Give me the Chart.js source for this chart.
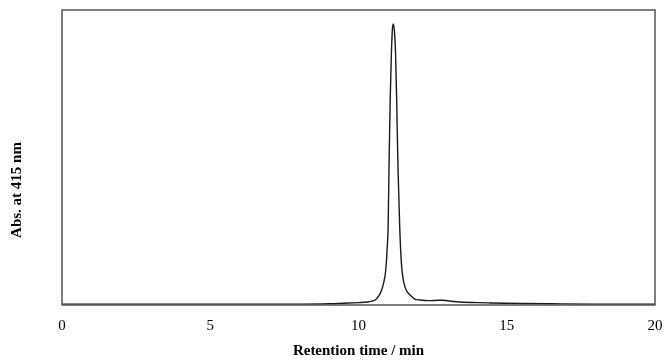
<!DOCTYPE html>
<html>
<head>
<meta charset="utf-8">
<script src="https://cdn.jsdelivr.net/npm/chart.js@4"></script>
<style>
  html, body { margin: 0; padding: 0; background: #fff; }
  #wrap { width: 667px; height: 360px; position: relative; }
</style>
</head>
<body>
<div id="wrap"><canvas id="myChart"></canvas></div>
<script>
// retention time (min) and absorbance
const times = [0, 2, 4, 6, 8, 9, 9.5, 10, 10.3, 10.45, 10.56, 10.68, 10.78, 10.86, 10.91, 10.95, 10.98, 11.0, 11.03, 11.07, 11.11, 11.14, 11.17, 11.21, 11.25, 11.29, 11.33, 11.39, 11.43, 11.47, 11.52, 11.58, 11.65, 11.74, 11.9, 12.07, 12.4, 12.7, 12.85, 13.1, 13.42, 14.0, 14.43, 15.5, 16.5, 18, 20];
const absorb = [0.003, 0.003, 0.003, 0.003, 0.003, 0.004, 0.006, 0.008, 0.010, 0.013, 0.017, 0.030, 0.051, 0.080, 0.110, 0.160, 0.215, 0.264, 0.475, 0.70, 0.854, 0.93, 0.953, 0.93, 0.854, 0.68, 0.475, 0.264, 0.170, 0.115, 0.080, 0.058, 0.044, 0.034, 0.020, 0.017, 0.015, 0.016, 0.016, 0.013, 0.010, 0.008, 0.007, 0.005, 0.004, 0.003, 0.003];
const xTicks = [0, 5, 10, 15, 20];

const points = times.map((t, i) => ({ x: t, y: absorb[i] }));

// frame round the plot area + rotated y title
const framePlugin = {
    id: "frame",
    afterDraw(chart) {
        const { ctx, chartArea: a } = chart;
        ctx.save();
        ctx.strokeStyle = "#555";
        ctx.lineWidth = 1.5;
        ctx.strokeRect(a.left, a.top, a.right - a.left, a.bottom - a.top);
        ctx.translate(17, 190);
        ctx.rotate(-Math.PI / 2);
        ctx.fillStyle = "#000";
        ctx.font = "bold 15px 'Liberation Serif', serif";
        ctx.textAlign = "center";
        ctx.textBaseline = "middle";
        ctx.fillText("Abs. at 415 nm", 0, 0);
        ctx.restore();
    }
};

var ctx = document.getElementById("myChart").getContext("2d");
var myChart = new Chart(ctx, {
    type: "line",
    data: {
        datasets: [
            {
                data: points,
                borderColor: "#1a1a1a",
                borderWidth: 1.4,
                pointRadius: 0,
                fill: false,
                cubicInterpolationMode: "monotone",
            },
        ],
    },
    options: {
        responsive: true,
        maintainAspectRatio: false,
        animation: false,
        layout: { padding: { left: 62, right: 12, top: 10, bottom: 0 } },
        plugins: { legend: { display: false }, tooltip: { enabled: false } },
        scales: {
            x: {
                type: "linear",
                min: 0,
                max: 20,
                afterFit: (s) => { s.height = 55; s.paddingRight = 0; s.paddingLeft = 0; },
                afterBuildTicks: (s) => { s.ticks = xTicks.map(v => ({ value: v })); },
                grid: { display: false },
                border: { display: false },
                ticks: {
                    color: "#000",
                    padding: 4,
                    font: { family: "'Liberation Serif', serif", size: 15 },
                },
                title: {
                    display: true,
                    text: "Retention time / min",
                    color: "#000",
                    font: { family: "'Liberation Serif', serif", size: 15, weight: "bold" },
                    padding: { top: 0, bottom: 0 },
                },
            },
            y: {
                min: 0,
                max: 1,
                afterFit: (s) => { s.width = 0; },
                grid: { display: false },
                border: { display: false },
                ticks: { display: false },
            },
        },
    },
    plugins: [framePlugin],
});
</script>
</body>
</html>
